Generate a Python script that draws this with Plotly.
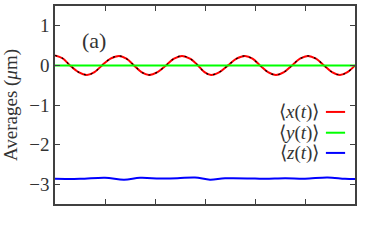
import plotly.graph_objects as go

# <x(t)> points
x_t = [0.0, 0.15, 0.3, 0.47, 0.64, 0.79, 0.94, 1.11, 1.28, 1.43, 1.58, 1.73,
       1.88, 2.05, 2.22, 2.38, 2.54, 2.7, 2.86, 2.99, 3.12, 3.29, 3.46, 3.63,
       3.8, 3.95, 4.1, 4.26, 4.42, 4.58, 4.74, 4.9, 5.06, 5.22, 5.38, 5.54,
       5.7, 5.85, 6.0]
x_vals = [0.25, 0.18, 0.0, -0.17, -0.24, -0.17, 0.0, 0.17, 0.24, 0.17, 0.0, -0.17,
          -0.24, -0.17, 0.0, 0.17, 0.24, 0.17, 0.0, -0.17, -0.24, -0.17, 0.0, 0.17,
          0.24, 0.17, 0.0, -0.17, -0.24, -0.17, 0.0, 0.17, 0.24, 0.17, 0.0, -0.17,
          -0.24, -0.17, 0.0]

# <y(t)>
y_t = [0.0, 6.0]
y_vals = [0.0, 0.0]

# <z(t)>
z_t = [0.0, 0.5, 1.0, 1.38, 1.7, 2.1, 2.45, 2.8, 3.1, 3.4, 4.0, 4.2, 4.6,
       5.0, 5.45, 5.8, 6.0]
z_vals = [-2.86, -2.865, -2.835, -2.885, -2.84, -2.855, -2.85, -2.83, -2.885,
          -2.85, -2.855, -2.865, -2.85, -2.86, -2.83, -2.865, -2.87]

y_ticks = [-3, -2, -1, 0, 1]
y_tick_text = ["\u22123", "\u22122", "\u22121", "0", "1"]
x_ticks = [1, 2, 3, 4, 5]

legend_names = ["\u27e8<i>x</i>(<i>t</i>)\u27e9", "\u27e8<i>y</i>(<i>t</i>)\u27e9",
                "\u27e8<i>z</i>(<i>t</i>)\u27e9"]
legend_colors = ["#ff0000", "#00ff00", "#0000ff"]
legend_y = [0.465, 0.36, 0.258]

SERIF = "Liberation Serif"

fig = go.Figure()
fig.add_trace(go.Scatter(x=x_t, y=x_vals, mode="lines",
                         line=dict(color="#ff0000", width=2, shape="spline", smoothing=1.0),
                         showlegend=False))
fig.add_trace(go.Scatter(x=x_t, y=x_vals, mode="lines",
                         line=dict(color="#000000", width=1.2, shape="spline", smoothing=1.0,
                                   dash="2px,5px"),
                         showlegend=False))
fig.add_trace(go.Scatter(x=y_t, y=y_vals, mode="lines",
                         line=dict(color="#00ff00", width=2), showlegend=False))
fig.add_trace(go.Scatter(x=z_t, y=z_vals, mode="lines",
                         line=dict(color="#0000ff", width=2, shape="spline", smoothing=1.0),
                         showlegend=False))

axis_common = dict(showline=True, linecolor="#404040", linewidth=1.5, mirror="ticks",
                   ticks="inside", ticklen=5, tickcolor="#404040", tickwidth=1.2,
                   showgrid=False, zeroline=False)

fig.update_xaxes(range=[0, 6], tickvals=x_ticks, showticklabels=False, **axis_common)
fig.update_yaxes(range=[-3.5, 1.5], tickvals=y_ticks, ticktext=y_tick_text,
                 tickfont=dict(family=SERIF, size=19, color="#333333"),
                 title=dict(text="Averages (<i>\u03bc</i>m)", standoff=8,
                            font=dict(family=SERIF, size=19, color="#333333")),
                 **axis_common)

fig.add_annotation(text="(a)", xref="paper", yref="paper", x=0.083, y=0.9,
                   showarrow=False, font=dict(family=SERIF, size=22, color="#333333"))

for name, col, ly in zip(legend_names, legend_colors, legend_y):
    fig.add_annotation(text=name, xref="paper", yref="paper", x=0.887, y=ly,
                       xanchor="right", yanchor="middle", showarrow=False,
                       font=dict(family=SERIF, size=19, color="#333333"))
    fig.add_shape(type="line", xref="paper", yref="paper", x0=0.903, x1=0.967,
                  y0=ly, y1=ly, line=dict(color=col, width=2))

fig.update_layout(width=374, height=250, margin=dict(l=55, r=19, t=4, b=46),
                  plot_bgcolor="white", paper_bgcolor="white")

fig.write_html("out.html", post_script="document.body.style.margin='0';",
               config={"displayModeBar": False})
